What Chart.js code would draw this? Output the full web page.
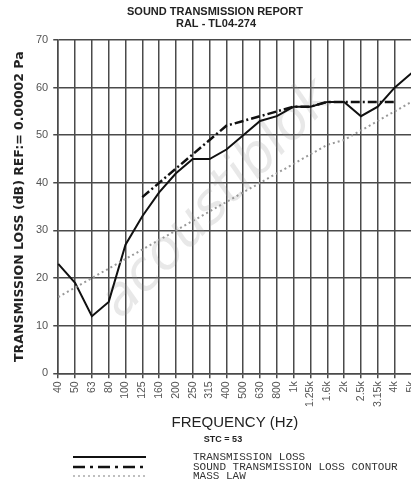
<!DOCTYPE html>
<html>
<head>
<meta charset="utf-8">
<script src="https://cdn.jsdelivr.net/npm/chart.js@4"></script>
<style>
  html, body { margin: 0; padding: 0; background: #fff; overflow: hidden; }
  #wrap { width: 411px; height: 481px; overflow: hidden; }
</style>
</head>
<body>
<div id="wrap"><canvas id="stc" width="427" height="481"></canvas></div>
<script>
// Frecuencias de tercio de octava (Hz)
const frequencies = ['40', '50', '63', '80', '100', '125', '160', '200', '250', '315', '400', '500',
  '630', '800', '1k', '1.25k', '1.6k', '2k', '2.5k', '3.15k', '4k', '5k'];

// Pérdida de transmisión medida (dB)
const transmissionLoss = [23, 19, 12, 15, 27, 33, 38, 42, 45, 45, 47, 50, 53, 54, 56, 56, 57, 57, 54, 56, 60, 63];

// Contorno STC 53 (125 Hz - 4 kHz)
const stcContour = [null, null, null, null, null, 37, 40, 43, 46, 49, 52, 53, 54, 55, 56, 56, 57, 57, 57, 57, 57, null];

// Ley de masa (dB)
const massLaw = [16, 18, 20, 22, 24, 26, 28, 30, 32, 34, 36, 38, 40, 42, 44, 46, 48, 49, 51, 53, 55, 57];

const yTicks = [0, 10, 20, 30, 40, 50, 60, 70];

const GRID = '#4a4a4a';
const TICK_TXT = '#555';

// Textos fuera del área: títulos, marca de agua, STC y leyenda
const reportPlugin = {
  id: 'report',
  beforeDatasetsDraw(chart) {
    const ctx = chart.ctx;
    ctx.save();
    ctx.translate(218, 200);
    ctx.rotate(-0.8);
    ctx.font = 'italic 200 54px "DejaVu Sans"';
    ctx.fillStyle = 'rgba(150,150,150,0.22)';
    ctx.textAlign = 'center';
    ctx.textBaseline = 'middle';
    ctx.fillText('acoustiblok', 0, 0);
    ctx.restore();
  },
  afterDraw(chart) {
    const ctx = chart.ctx;
    ctx.save();
    ctx.fillStyle = '#222';
    ctx.textAlign = 'center';
    ctx.textBaseline = 'middle';
    ctx.font = 'bold 11px "Liberation Sans"';
    ctx.fillText('SOUND TRANSMISSION REPORT', 215, 12);
    ctx.fillText('RAL - TL04-274', 216, 24);

    ctx.font = 'bold 9px "Liberation Sans"';
    ctx.fillText('STC = 53', 223, 440);

    // Leyenda
    const rows = [
      { y: 457, dash: [], color: '#111', width: 2, text: 'TRANSMISSION LOSS' },
      { y: 467, dash: [12, 5, 3, 5], color: '#111', width: 2.5, text: 'SOUND TRANSMISSION LOSS CONTOUR' },
      { y: 476, dash: [2, 3], color: '#aaa', width: 1.5, text: 'MASS LAW' }
    ];
    ctx.font = '11px "Liberation Mono"';
    ctx.textAlign = 'left';
    rows.forEach(r => {
      ctx.beginPath();
      ctx.setLineDash(r.dash);
      ctx.strokeStyle = r.color;
      ctx.lineWidth = r.width;
      ctx.moveTo(73, r.y);
      ctx.lineTo(146, r.y);
      ctx.stroke();
      ctx.fillStyle = '#333';
      ctx.fillText(r.text, 193, r.y);
    });
    ctx.restore();
  }
};

new Chart(document.getElementById('stc'), {
  type: 'line',
  data: {
    labels: frequencies,
    datasets: [
      {
        label: 'MASS LAW',
        data: massLaw,
        borderColor: '#999',
        borderWidth: 2,
        borderDash: [2, 3],
        pointRadius: 0,
        tension: 0
      },
      {
        label: 'SOUND TRANSMISSION LOSS CONTOUR',
        data: stcContour,
        borderColor: '#111',
        borderWidth: 2.5,
        borderDash: [9, 3, 2, 3],
        pointRadius: 0,
        tension: 0,
        spanGaps: false
      },
      {
        label: 'TRANSMISSION LOSS',
        data: transmissionLoss,
        borderColor: '#111',
        borderWidth: 2,
        pointRadius: 0,
        tension: 0
      }
    ]
  },
  options: {
    responsive: false,
    animation: false,
    layout: { padding: { top: 40, bottom: 49, left: 12, right: 0 } },
    plugins: {
      legend: { display: false },
      tooltip: { enabled: false },
      title: { display: false }
    },
    scales: {
      x: {
        offset: false,
        grid: { color: GRID, lineWidth: 1.5, tickLength: 5 },
        border: { color: GRID, width: 1.5 },
        ticks: {
          autoSkip: false,
          minRotation: 90,
          maxRotation: 90,
          padding: 3,
          color: TICK_TXT,
          font: { family: 'Liberation Sans', size: 10.5 }
        },
        title: {
          display: true,
          text: 'FREQUENCY (Hz)',
          color: '#222',
          padding: { top: 4, bottom: 0 },
          font: { family: 'Liberation Sans', size: 15 }
        }
      },
      y: {
        min: 0,
        max: 70,
        afterBuildTicks(scale) { scale.ticks = yTicks.map(v => ({ value: v })); },
        grid: { color: GRID, lineWidth: 1.5, tickLength: 5 },
        border: { color: GRID, width: 1.5 },
        ticks: {
          padding: 5,
          color: TICK_TXT,
          font: { family: 'Liberation Sans', size: 11 }
        },
        title: {
          display: true,
          text: 'TRANSMISSION LOSS (dB) REF:= 0.00002 Pa',
          color: '#222',
          padding: { top: 0, bottom: 4 },
          font: { family: 'DejaVu Sans', size: 12.5, weight: 'bold' }
        }
      }
    }
  },
  plugins: [reportPlugin]
});
</script>
</body>
</html>
